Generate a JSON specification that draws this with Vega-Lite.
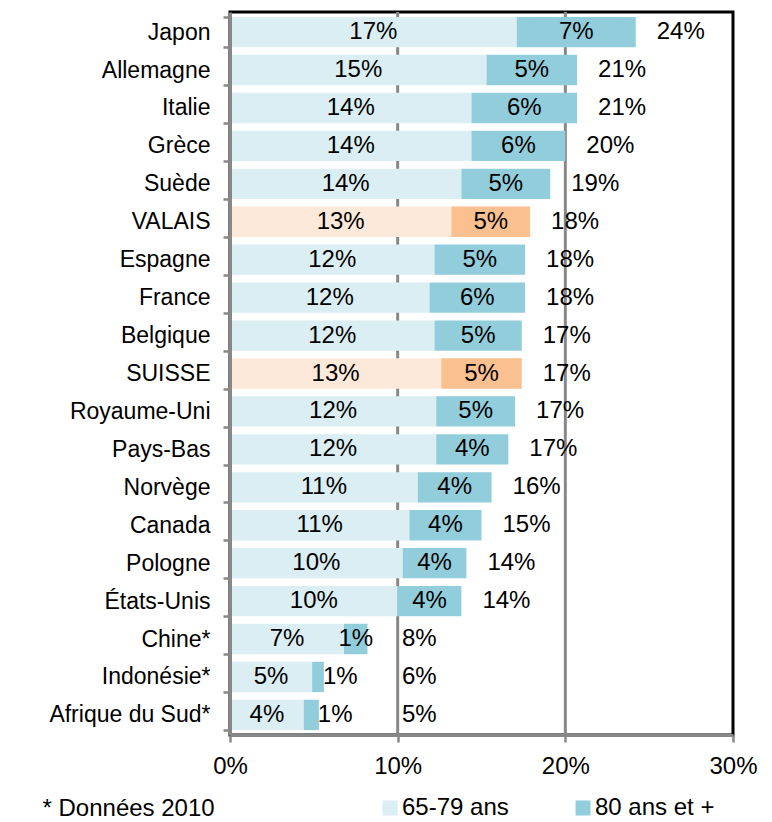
{
  "$schema": "https://vega.github.io/schema/vega-lite/v6.json",
  "width": 503,
  "height": 723,
  "autosize": {"type": "none"},
  "padding": {"left": 230, "top": 12, "right": 39, "bottom": 87},
  "background": "white",
  "config": {
    "font": "Liberation Sans",
    "view": {"stroke": "#000000", "strokeWidth": 3},
    "text": {"color": "#000000"}
  },
  "data": {
    "values": [
      {"pays": "Japon", "groupe": "65-79", "serie": "65-79 ans", "valeur": 17.1},
      {"pays": "Japon", "groupe": "80+", "serie": "80 ans et +", "valeur": 7.1},
      {"pays": "Allemagne", "groupe": "65-79", "serie": "65-79 ans", "valeur": 15.3},
      {"pays": "Allemagne", "groupe": "80+", "serie": "80 ans et +", "valeur": 5.4},
      {"pays": "Italie", "groupe": "65-79", "serie": "65-79 ans", "valeur": 14.4},
      {"pays": "Italie", "groupe": "80+", "serie": "80 ans et +", "valeur": 6.3},
      {"pays": "Grèce", "groupe": "65-79", "serie": "65-79 ans", "valeur": 14.4},
      {"pays": "Grèce", "groupe": "80+", "serie": "80 ans et +", "valeur": 5.6},
      {"pays": "Suède", "groupe": "65-79", "serie": "65-79 ans", "valeur": 13.8},
      {"pays": "Suède", "groupe": "80+", "serie": "80 ans et +", "valeur": 5.3},
      {"pays": "VALAIS", "groupe": "65-79", "serie": "65-79 ans CH", "valeur": 13.2},
      {"pays": "VALAIS", "groupe": "80+", "serie": "80 ans et + CH", "valeur": 4.7},
      {"pays": "Espagne", "groupe": "65-79", "serie": "65-79 ans", "valeur": 12.2},
      {"pays": "Espagne", "groupe": "80+", "serie": "80 ans et +", "valeur": 5.4},
      {"pays": "France", "groupe": "65-79", "serie": "65-79 ans", "valeur": 11.9},
      {"pays": "France", "groupe": "80+", "serie": "80 ans et +", "valeur": 5.7},
      {"pays": "Belgique", "groupe": "65-79", "serie": "65-79 ans", "valeur": 12.2},
      {"pays": "Belgique", "groupe": "80+", "serie": "80 ans et +", "valeur": 5.2},
      {"pays": "SUISSE", "groupe": "65-79", "serie": "65-79 ans CH", "valeur": 12.6},
      {"pays": "SUISSE", "groupe": "80+", "serie": "80 ans et + CH", "valeur": 4.8},
      {"pays": "Royaume-Uni", "groupe": "65-79", "serie": "65-79 ans", "valeur": 12.3},
      {"pays": "Royaume-Uni", "groupe": "80+", "serie": "80 ans et +", "valeur": 4.7},
      {"pays": "Pays-Bas", "groupe": "65-79", "serie": "65-79 ans", "valeur": 12.3},
      {"pays": "Pays-Bas", "groupe": "80+", "serie": "80 ans et +", "valeur": 4.3},
      {"pays": "Norvège", "groupe": "65-79", "serie": "65-79 ans", "valeur": 11.2},
      {"pays": "Norvège", "groupe": "80+", "serie": "80 ans et +", "valeur": 4.4},
      {"pays": "Canada", "groupe": "65-79", "serie": "65-79 ans", "valeur": 10.7},
      {"pays": "Canada", "groupe": "80+", "serie": "80 ans et +", "valeur": 4.3},
      {"pays": "Pologne", "groupe": "65-79", "serie": "65-79 ans", "valeur": 10.3},
      {"pays": "Pologne", "groupe": "80+", "serie": "80 ans et +", "valeur": 3.8},
      {"pays": "États-Unis", "groupe": "65-79", "serie": "65-79 ans", "valeur": 10.0},
      {"pays": "États-Unis", "groupe": "80+", "serie": "80 ans et +", "valeur": 3.8},
      {"pays": "Chine*", "groupe": "65-79", "serie": "65-79 ans", "valeur": 6.8},
      {"pays": "Chine*", "groupe": "80+", "serie": "80 ans et +", "valeur": 1.4},
      {"pays": "Indonésie*", "groupe": "65-79", "serie": "65-79 ans", "valeur": 4.9},
      {"pays": "Indonésie*", "groupe": "80+", "serie": "80 ans et +", "valeur": 0.7},
      {"pays": "Afrique du Sud*", "groupe": "65-79", "serie": "65-79 ans", "valeur": 4.4},
      {"pays": "Afrique du Sud*", "groupe": "80+", "serie": "80 ans et +", "valeur": 0.9}
    ]
  },
  "transform": [
    {"stack": "valeur", "groupby": ["pays"], "sort": [{"field": "groupe"}], "as": ["x0", "x1"]},
    {"joinaggregate": [{"op": "sum", "field": "valeur", "as": "total"}], "groupby": ["pays"]}
  ],
  "encoding": {
    "y": {
      "field": "pays",
      "type": "nominal",
      "sort": null,
      "scale": {"paddingInner": 0.2, "paddingOuter": 0.13},
      "axis": {
        "title": null,
        "tickBand": "extent",
        "grid": false,
        "domainColor": "#888888",
        "domainWidth": 3,
        "tickColor": "#888888",
        "tickSize": 7,
        "tickWidth": 2.5,
        "labelFontSize": 23,
        "labelColor": "#000000",
        "labelPadding": 13,
        "zindex": 1
      }
    }
  },
  "layer": [
    {
      "transform": [{"filter": "datum.pays == 'Japon' && datum.groupe == '65-79'"}],
      "mark": {"type": "rule", "color": "#888888", "strokeWidth": 3},
      "encoding": {"x": {"datum": 10, "type": "quantitative"}, "y": null}
    },
    {
      "transform": [{"filter": "datum.pays == 'Japon' && datum.groupe == '65-79'"}],
      "mark": {"type": "rule", "color": "#888888", "strokeWidth": 3},
      "encoding": {"x": {"datum": 20, "type": "quantitative"}, "y": null}
    },
    {
      "mark": {"type": "bar", "opacity": 1},
      "encoding": {
        "x": {
          "field": "x0",
          "type": "quantitative",
          "scale": {"domain": [0, 30], "nice": false},
          "axis": {
            "values": [0, 10, 20, 30],
            "labelExpr": "datum.value + '%'",
            "labelFlush": false,
            "grid": false,
            "domainColor": "#888888",
            "domainWidth": 3,
            "tickColor": "#888888",
            "tickSize": 7,
            "tickWidth": 2.5,
            "labelFontSize": 24,
            "labelColor": "#000000",
            "labelPadding": 12,
            "zindex": 1,
            "title": "* Données 2010",
            "titleX": -188,
            "titleY": 80,
            "titleAlign": "left",
            "titleBaseline": "alphabetic",
            "titleFontSize": 24,
            "titleFontWeight": "normal",
            "titleColor": "#000000"
          }
        },
        "x2": {"field": "x1"},
        "color": {
          "field": "serie",
          "type": "nominal",
          "scale": {
            "domain": ["65-79 ans", "80 ans et +", "65-79 ans CH", "80 ans et + CH"],
            "range": ["#DAEEF3", "#92CDDC", "#FDE9D9", "#FAC090"]
          },
          "legend": {
            "values": ["65-79 ans", "80 ans et +"],
            "title": null,
            "orient": "none",
            "direction": "horizontal",
            "legendX": 148,
            "legendY": 784,
            "symbolType": "square",
            "symbolSize": 225,
            "symbolStrokeWidth": 0,
            "symbolOpacity": 1,
            "labelFontSize": 24,
            "labelColor": "#000000",
            "labelOffset": 0,
            "columnPadding": 62
          }
        }
      }
    },
    {
      "transform": [
        {"filter": "!(datum.groupe == '80+' && datum.valeur < 1.2)"},
        {"calculate": "(datum.x0 + datum.x1) / 2", "as": "xm"},
        {"calculate": "format(datum.valeur, '.0f') + '%'", "as": "lab"}
      ],
      "mark": {"type": "text", "fontSize": 24, "baseline": "middle"},
      "encoding": {
        "x": {"field": "xm", "type": "quantitative"},
        "text": {"field": "lab"}
      }
    },
    {
      "transform": [
        {"filter": "datum.groupe == '80+' && datum.valeur < 1.2"},
        {"calculate": "format(datum.valeur, '.0f') + '%'", "as": "lab"}
      ],
      "mark": {"type": "text", "fontSize": 24, "baseline": "middle", "align": "left", "dx": -1},
      "encoding": {
        "x": {"field": "x1", "type": "quantitative"},
        "text": {"field": "lab"}
      }
    },
    {
      "transform": [
        {"filter": "datum.groupe == '80+'"},
        {"calculate": "max(datum.total, 9)", "as": "xt"},
        {"calculate": "format(datum.total, '.0f') + '%'", "as": "lab"}
      ],
      "mark": {"type": "text", "fontSize": 24, "baseline": "middle", "align": "left", "dx": 21},
      "encoding": {
        "x": {"field": "xt", "type": "quantitative"},
        "text": {"field": "lab"}
      }
    }
  ]
}
